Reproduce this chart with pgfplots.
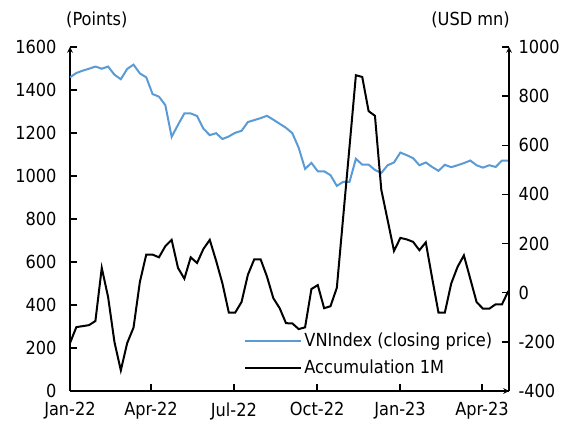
\documentclass[border=0pt]{standalone}
\usepackage{fontspec}
\setmainfont{DejaVu Sans Condensed}
\usepackage{pgfplots}
\usepackage{pgfplotstable}
\pgfplotsset{compat=1.18}
\definecolor{vnblue}{RGB}{91,155,213}

\pgfplotstableread{
w v
0 1459
1 1479
2 1490
3 1499
4 1509
5 1499
6 1509
7 1471
8 1450
9 1498
10 1518
11 1477
12 1459
13 1381
14 1369
15 1330
16 1182
17 1238
18 1291
19 1291
20 1279
21 1220
22 1190
23 1199
24 1172
25 1184
26 1201
27 1210
28 1251
29 1260
30 1269
31 1280
32 1262
33 1243
34 1224
35 1199
36 1131
37 1033
38 1061
39 1022
40 1022
41 1004
42 954
43 973
44 973
45 1080
46 1053
47 1053
48 1028
49 1014
50 1050
51 1063
52 1109
53 1097
54 1083
55 1050
56 1063
57 1042
58 1024
59 1052
60 1041
61 1050
62 1060
63 1072
64 1050
65 1039
66 1050
67 1042
68 1072
69 1072
}\vnindex

\pgfplotstableread{
w v
0 -205
1 -140
2 -136
3 -132
4 -115
5 101
6 -18
7 -201
8 -316
9 -205
10 -142
11 44
12 155
13 155
14 144
15 189
16 215
17 101
18 57
19 144
20 121
21 178
22 215
23 130
24 37
25 -81
26 -81
27 -38
28 73
29 136
30 136
31 66
32 -22
33 -63
34 -124
35 -125
36 -148
37 -141
38 15
39 31
40 -63
41 -55
42 20
43 308
44 595
45 885
46 878
47 739
48 720
49 419
50 295
51 170
52 223
53 217
54 207
55 173
56 205
57 60
58 -81
59 -81
60 37
61 105
62 152
63 57
64 -38
65 -65
66 -65
67 -47
68 -47
69 7
}\accum

\begin{document}
\begin{tikzpicture}[font=\fontsize{18bp}{22bp}\selectfont]
\useasboundingbox (-70bp,-32bp) rectangle (499bp,391bp);
\pgfplotsset{
  base/.style={
    scale only axis, width=439bp, height=344bp,
    at={(0,0)}, anchor=south west,
    xmin=0, xmax=69.1,
    axis line style={-, line width=1.5bp},
    tick style={line width=1.5bp, black},
    /pgf/number format/assume math mode=true,
    /pgf/number format/1000 sep={},
    tick label style={font=\fontsize{18bp}{22bp}\selectfont},
    every outer x axis line/.append style={-},
    every outer y axis line/.append style={-},
  }
}
\begin{axis}[base,
  axis x line=bottom, axis y line=left,
  tick align=inside, major tick length=7bp,
  ymin=0, ymax=1600, ytick={0,200,...,1600},
  xtick={0,12.75,25.8,38.9,51.95,64.85},
  xticklabels={Jan-22,Apr-22,Jul-22,Oct-22,Jan-23,Apr-23},
  yticklabel shift=10bp,
  xticklabel shift=8bp,
]
\addplot[vnblue, line width=2bp] table[x=w, y=v] {\vnindex};
\end{axis}
\begin{axis}[base,
  axis x line=none, axis y line=right,
  tick align=inside, major tick length=7bp,
  ymin=-400, ymax=1000, ytick={-400,-200,...,1000},
  yticklabel shift=6bp,
  legend style={at={(0.397,0.175)}, anchor=north west, draw=none, fill=none,
    inner sep=0pt, row sep=8bp, font=\fontsize{18bp}{22bp}\selectfont},
  legend cell align=left,
  legend image code/.code={\path (0bp,0bp) -- (56bp,0bp); \draw[#1] (0bp,0bp) -- (52bp,0bp);},
]
\addlegendimage{vnblue, line width=2bp}
\addlegendentry{VNIndex (closing price)}
\addplot[black, line width=2bp] table[x=w, y=v] {\accum};
\addlegendentry{Accumulation 1M}
\end{axis}
\node[anchor=west, inner sep=0pt] at (-4bp,371bp) {(Points)};
\node[anchor=east, inner sep=0pt] at (440bp,371bp) {(USD mn)};
\end{tikzpicture}
\end{document}
